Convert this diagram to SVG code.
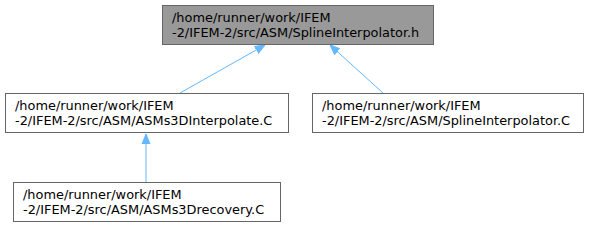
<svg xmlns="http://www.w3.org/2000/svg" width="589" height="227" viewBox="0 0 589 227">
<style>
.n rect{stroke:#666666;stroke-width:1;fill:#ffffff}
.n.cur rect{fill:#999999}
text{font-family:"DejaVu Sans",sans-serif;font-size:12.9px;fill:#000000}
.e{stroke:#63b8ff;stroke-width:1;fill:none}
</style>
<defs>
<marker id="a" viewBox="0 0 10 10" refX="10" refY="5" markerWidth="10" markerHeight="10" markerUnits="userSpaceOnUse" orient="auto">
<path d="M0,1 L10,5 L0,9 Z" fill="#63b8ff" stroke="#63b8ff"/>
</marker>
</defs>
<g id="edges">
<path class="e" d="M180,93 L265,45" marker-end="url(#a)"/>
<path class="e" d="M383,93 L330,45" marker-end="url(#a)"/>
<path class="e" d="M146,182 L146,134" marker-end="url(#a)"/>
</g>
<g id="n1" class="n cur">
<rect x="162.5" y="5.5" width="271" height="39"/>
<text x="172" y="22">/home/runner/work/IFEM</text>
<text x="172" y="37">-2/IFEM-2/src/ASM/SplineInterpolator.h</text>
</g>
<g id="n2" class="n">
<rect x="5.5" y="93.5" width="283" height="39"/>
<text x="15" y="110">/home/runner/work/IFEM</text>
<text x="15" y="125">-2/IFEM-2/src/ASM/ASMs3DInterpolate.C</text>
</g>
<g id="n3" class="n">
<rect x="312.5" y="93.5" width="271" height="39"/>
<text x="322" y="110">/home/runner/work/IFEM</text>
<text x="322" y="125">-2/IFEM-2/src/ASM/SplineInterpolator.C</text>
</g>
<g id="n4" class="n">
<rect x="13.5" y="182.5" width="267" height="39"/>
<text x="23" y="199">/home/runner/work/IFEM</text>
<text x="23" y="214">-2/IFEM-2/src/ASM/ASMs3Drecovery.C</text>
</g>
</svg>
